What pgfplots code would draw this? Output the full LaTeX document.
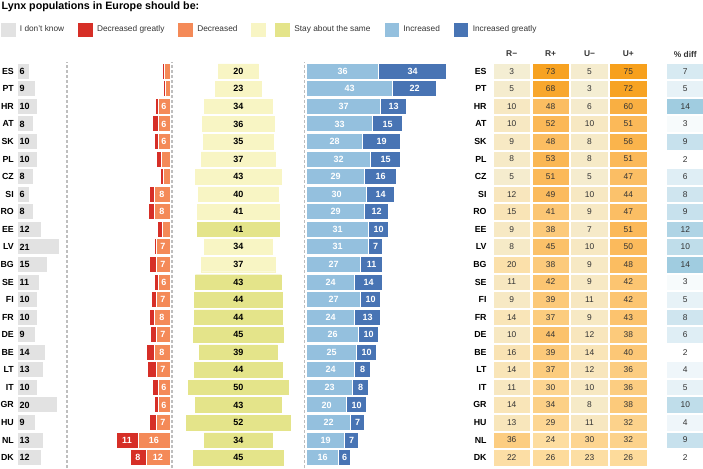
\documentclass[border=0pt]{standalone}
\usepackage{pgfplots}
\pgfplotsset{compat=1.18}
\usepackage{pgfplotstable}
\usepackage{fontspec}
\setmainfont{Liberation Sans}
\definecolor{cgray}{RGB}{226,226,226}
\definecolor{cred}{RGB}{214,47,39}
\definecolor{corange}{RGB}{244,138,88}
\definecolor{cylight}{RGB}{248,245,196}
\definecolor{cydark}{RGB}{228,228,138}
\definecolor{cblue1}{RGB}{148,192,222}
\definecolor{cblue2}{RGB}{72,116,180}
\definecolor{ctext}{RGB}{51,51,51}
\definecolor{cdash}{RGB}{190,190,190}

\pgfplotstableread{
y code dk dg d stay dark inc incg rm rp um up diff
22 ES 6 1 2.7 20 0 36 34 3 73 5 75 7
21 PT 9 1 2.5 23 0 43 22 5 68 3 72 5
20 HR 10 1.3 6 34 0 37 13 10 48 6 60 14
19 AT 8 2.7 6 36 0 33 15 10 52 10 51 3
18 SK 10 2 6 35 0 28 19 9 48 8 56 9
17 PL 10 2.2 4.5 37 0 32 15 8 53 8 51 2
16 CZ 8 1.2 3.5 43 0 29 16 5 51 5 47 6
15 SI 6 2.3 8 40 0 30 14 12 49 10 44 8
14 RO 8 2.7 8 41 0 29 12 15 41 9 47 9
13 EE 12 2.7 3.7 41 1 31 10 9 38 7 51 12
12 LV 21 0.9 7 34 0 31 7 8 45 10 50 10
11 BG 15 3.5 7 37 0 27 11 20 38 9 48 14
10 SE 11 2 6 43 1 24 14 11 42 9 42 3
9 FI 10 2.3 7 44 1 27 10 9 39 11 42 5
8 FR 10 2.5 8 44 1 24 13 14 37 9 43 8
7 DE 9 2.8 7 45 1 26 10 10 44 12 38 6
6 BE 14 3.8 8 39 1 25 10 16 39 14 40 2
5 LT 13 4.3 7 44 1 24 8 14 37 12 36 4
4 IT 10 2.7 6 50 1 23 8 11 30 10 36 5
3 GR 20 2 6 43 1 20 10 14 34 8 38 10
2 HU 9 3.3 7 52 1 22 7 13 29 11 32 4
1 NL 13 11 16 34 1 19 7 36 24 30 32 9
0 DK 12 8 12 45 1 16 6 22 26 23 26 2
}\maindata

\pgfplotsset{
  /pgf/number format/assume math mode=true,
  panel/.style={scale only axis, height=403.9pt, ymin=-0.5, ymax=22.5, clip=false, anchor=south west},
  noaxis/.style={axis line style={draw=none}, tick style={draw=none}, major tick length=0pt, xtick=\empty,
    ytick={0,...,22}, yticklabels={DK,NL,HU,GR,IT,LT,BE,DE,FR,FI,SE,BG,LV,EE,RO,SI,CZ,PL,SK,AT,HR,PT,ES}},
  hbar/.style={xbar, bar shift=0pt, bar width=16pt, draw=white, line width=1pt, fill=#1},
  barlab/.style={draw=none, mark=none, nodes near coords,
    every node near coord/.append style={anchor=center, font=\bfseries\fontsize{9}{10}\selectfont, inner sep=0pt, text=#1}},
  barlab/.default=black,
  cell/.style={scatter, only marks, mark=square*, mark size=7.3pt,
    scatter/use mapped color={draw=mapped color, fill=mapped color, line width=0.4pt, xscale=2.45}},
  celllab/.style={draw=none, mark=none, nodes near coords,
    every node near coord/.append style={anchor=center, text=ctext, font=\fontsize{8.4}{10}\selectfont, inner sep=0pt}},
}

\begin{document}
\begin{tikzpicture}
\useasboundingbox (0pt,0pt) rectangle (703pt,468pt);

% Don't know
\begin{axis}[panel, noaxis, at={(17pt,1.6pt)}, width=60pt, xmin=0, xmax=30,
  yticklabel style={font=\bfseries\fontsize{8.8}{10}\selectfont, inner sep=0pt, xshift=-3pt},
  legend columns=6, legend cell align=left,
  legend style={at={(-0.26667,1.0815)}, anchor=west, draw=none, fill=none, inner sep=0pt, outer sep=0pt,
    font=\fontsize{8.3}{10}\selectfont, text=ctext, nodes={inner sep=0pt},
    /tikz/every odd column/.append style={column sep=5pt},
    /tikz/every even column/.append style={column sep=14pt}}]
\addplot[forget plot, hbar=cgray] table[x=dk, y=y]{\maindata};
\addplot[forget plot, barlab, every node near coord/.append style={anchor=west, xshift=2.5pt}, point meta=\thisrow{dk}] table[x expr=0, y=y]{\maindata};
\addlegendimage{legend image code/.code={\fill[cgray] (0pt,-6.5pt) rectangle (13.5pt,6.5pt);}}
\addlegendentry{I don't know}
\addlegendimage{legend image code/.code={\fill[cred] (0pt,-6.5pt) rectangle (13.5pt,6.5pt);}}
\addlegendentry{Decreased greatly}
\addlegendimage{legend image code/.code={\fill[corange] (0pt,-6.5pt) rectangle (13.5pt,6.5pt);}}
\addlegendentry{Decreased}
\addlegendimage{legend image code/.code={\fill[cylight] (0pt,-6.5pt) rectangle (13.5pt,6.5pt); \fill[cydark] (24pt,-6.5pt) rectangle (37.5pt,6.5pt);}}
\addlegendentry{Stay about the same}
\addlegendimage{legend image code/.code={\fill[cblue1] (0pt,-6.5pt) rectangle (13.5pt,6.5pt);}}
\addlegendentry{Increased}
\addlegendimage{legend image code/.code={\fill[cblue2] (0pt,-6.5pt) rectangle (13.5pt,6.5pt);}}
\addlegendentry{Increased greatly}
\end{axis}

% Decreased
\begin{axis}[panel, hide axis, at={(70pt,1.6pt)}, width=100pt, xmin=0, xmax=50, x dir=reverse]
\addplot[hbar=cred] table[x expr=\thisrow{d}+\thisrow{dg}, y=y]{\maindata};
\addplot[hbar=corange] table[x=d, y=y]{\maindata};
\addplot[barlab=white, restrict expr to domain={\thisrow{d}}{5.5:100}, point meta=\thisrow{d}] table[x expr=\thisrow{d}/2, y=y]{\maindata};
\addplot[barlab=white, restrict expr to domain={\thisrow{dg}}{7.5:100}, point meta=\thisrow{dg}] table[x expr=\thisrow{d}+\thisrow{dg}/2, y=y]{\maindata};
\end{axis}

% Stay about the same
\begin{axis}[panel, hide axis, at={(178.3pt,1.6pt)}, width=120pt, xmin=-30, xmax=30]
\addplot[xbar, bar shift=0pt, bar width=14.6pt, fill=cylight, draw=cylight, line width=0.4pt, restrict expr to domain={\thisrow{dark}}{-0.5:0.5}] table[x expr=\thisrow{stay}/2, y=y]{\maindata};
\addplot[xbar, bar shift=0pt, bar width=14.6pt, fill=cylight, draw=cylight, line width=0.4pt, restrict expr to domain={\thisrow{dark}}{-0.5:0.5}] table[x expr=-\thisrow{stay}/2, y=y]{\maindata};
\addplot[xbar, bar shift=0pt, bar width=14.6pt, fill=cydark, draw=cydark, line width=0.4pt, restrict expr to domain={\thisrow{dark}}{0.5:1.5}] table[x expr=\thisrow{stay}/2, y=y]{\maindata};
\addplot[xbar, bar shift=0pt, bar width=14.6pt, fill=cydark, draw=cydark, line width=0.4pt, restrict expr to domain={\thisrow{dark}}{0.5:1.5}] table[x expr=-\thisrow{stay}/2, y=y]{\maindata};
\addplot[barlab, point meta=\thisrow{stay}] table[x expr=0, y=y]{\maindata};
\end{axis}

% Increased
\begin{axis}[panel, hide axis, at={(306.7pt,1.6pt)}, width=150pt, xmin=0, xmax=75]
\addplot[hbar=cblue2] table[x expr=\thisrow{inc}+\thisrow{incg}, y=y]{\maindata};
\addplot[hbar=cblue1] table[x=inc, y=y]{\maindata};
\addplot[barlab=white, point meta=\thisrow{inc}] table[x expr=\thisrow{inc}/2, y=y]{\maindata};
\addplot[barlab=white, point meta=\thisrow{incg}] table[x expr=\thisrow{inc}+\thisrow{incg}/2, y=y]{\maindata};
\end{axis}

% Table R-, R+, U-, U+
\begin{axis}[panel, noaxis, at={(492.25pt,1.6pt)}, width=155.6pt, xmin=-0.5, xmax=3.5,
  yticklabel style={font=\bfseries\fontsize{8.8}{10}\selectfont, inner sep=0pt, xshift=-5.5pt},
  colormap={heat}{rgb255=(243,240,218) rgb255=(253,220,158) rgb255=(251,186,92) rgb255=(247,160,28)},
  point meta min=0, point meta max=75]
\addplot[cell, point meta=\thisrow{rm}] table[x expr=0, y=y]{\maindata};
\addplot[cell, point meta=\thisrow{rp}] table[x expr=1, y=y]{\maindata};
\addplot[cell, point meta=\thisrow{um}] table[x expr=2, y=y]{\maindata};
\addplot[cell, point meta=\thisrow{up}] table[x expr=3, y=y]{\maindata};
\addplot[celllab, point meta=\thisrow{rm}] table[x expr=0, y=y]{\maindata};
\addplot[celllab, point meta=\thisrow{rp}] table[x expr=1, y=y]{\maindata};
\addplot[celllab, point meta=\thisrow{um}] table[x expr=2, y=y]{\maindata};
\addplot[celllab, point meta=\thisrow{up}] table[x expr=3, y=y]{\maindata};
\node[font=\bfseries\fontsize{8.4}{10}\selectfont, text=ctext] at (axis cs:0,22.98) {R−};
\node[font=\bfseries\fontsize{8.4}{10}\selectfont, text=ctext] at (axis cs:1,22.98) {R+};
\node[font=\bfseries\fontsize{8.4}{10}\selectfont, text=ctext] at (axis cs:2,22.98) {U−};
\node[font=\bfseries\fontsize{8.4}{10}\selectfont, text=ctext] at (axis cs:3,22.98) {U+};
\end{axis}

% % diff
\begin{axis}[panel, hide axis, at={(665.85pt,1.6pt)}, width=38.9pt, xmin=-0.5, xmax=0.5,
  colormap={blu}{rgb255=(255,255,255) rgb255=(160,204,224)},
  point meta min=2, point meta max=14]
\addplot[cell, point meta=\thisrow{diff}] table[x expr=0, y=y]{\maindata};
\addplot[celllab, point meta=\thisrow{diff}] table[x expr=0, y=y]{\maindata};
\node[font=\bfseries\fontsize{8.4}{10}\selectfont, text=ctext] at (axis cs:0,22.98) {\% diff};
\end{axis}

% dashed separators
\foreach \xx in {67,172,304.5}{
  \draw[cdash, line width=1.5pt, dash pattern=on 3pt off 2pt] (\xx pt,0pt) -- (\xx pt,406pt);
}
% title
\node[anchor=base west, inner sep=0pt, font=\bfseries\fontsize{10.7}{12}\selectfont] at (1.5pt,458.3pt) {Lynx populations in Europe should be:};
\end{tikzpicture}
\end{document}
